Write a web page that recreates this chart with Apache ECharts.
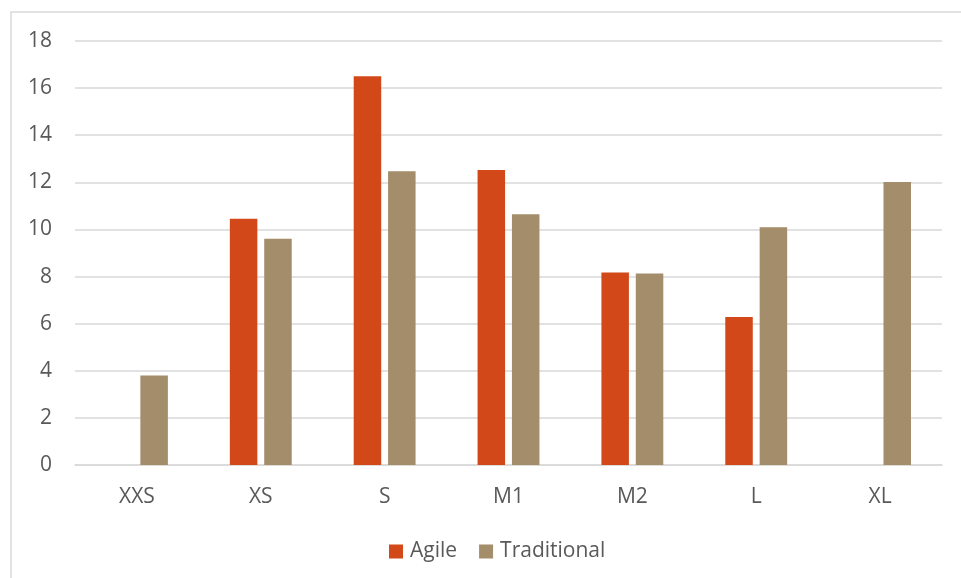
<!DOCTYPE html>
<html>
<head>
<meta charset="utf-8">
<script src="https://cdn.jsdelivr.net/npm/echarts@6/dist/echarts.min.js"></script>
<style>html,body{margin:0;padding:0;background:#fff;}#c{width:961px;height:578px;}</style>
</head>
<body>
<div id="c"></div>
<script>
const categories = ['XXS', 'XS', 'S', 'M1', 'M2', 'L', 'XL'];
const agile = [null, 10.45, 16.5, 12.52, 8.17, 6.28, null];
const traditional = [3.8, 9.6, 12.47, 10.64, 8.13, 10.09, 12.01];
const yTicks = [0, 2, 4, 6, 8, 10, 12, 14, 16, 18];

const chart = echarts.init(document.getElementById('c'));
const font = '"Open Sans", "Liberation Sans", sans-serif';
chart.setOption({
  backgroundColor: '#ffffff',
  animation: false,
  textStyle: { fontFamily: font },
  graphic: [{
    type: 'rect',
    shape: { x: 11, y: 12, width: 980, height: 600 },
    style: { fill: 'none', stroke: '#d9d9d9', lineWidth: 1.5 },
    silent: true
  }],
  grid: { left: 75, right: 19, top: 41, bottom: 113, containLabel: false },
  legend: {
    data: ['Agile', 'Traditional'],
    left: 384,
    top: 536,
    icon: 'rect',
    itemWidth: 14,
    itemHeight: 14,
    itemGap: 22,
    textStyle: { color: '#595959', fontSize: 21, fontFamily: font, padding: [0, 0, 0, 2] }
  },
  xAxis: {
    type: 'category',
    data: categories,
    axisTick: { show: false },
    axisLine: { lineStyle: { color: '#d9d9d9', width: 1.5 } },
    axisLabel: { color: '#595959', fontSize: 21, fontFamily: font, margin: 22 }
  },
  yAxis: {
    type: 'value',
    min: yTicks[0],
    max: yTicks[yTicks.length - 1],
    interval: 2,
    axisLine: { show: false },
    axisTick: { show: false },
    axisLabel: { color: '#595959', fontSize: 21, fontFamily: font, margin: 23 },
    splitLine: { lineStyle: { color: '#d9d9d9', width: 1.5 } }
  },
  series: [
    { name: 'Agile', type: 'bar', data: agile, barWidth: 27.5, barGap: '25%',
      itemStyle: { color: '#D24818' } },
    { name: 'Traditional', type: 'bar', data: traditional, barWidth: 27.5, barGap: '25%',
      itemStyle: { color: '#A38D6A' } }
  ]
});
</script>
</body>
</html>
